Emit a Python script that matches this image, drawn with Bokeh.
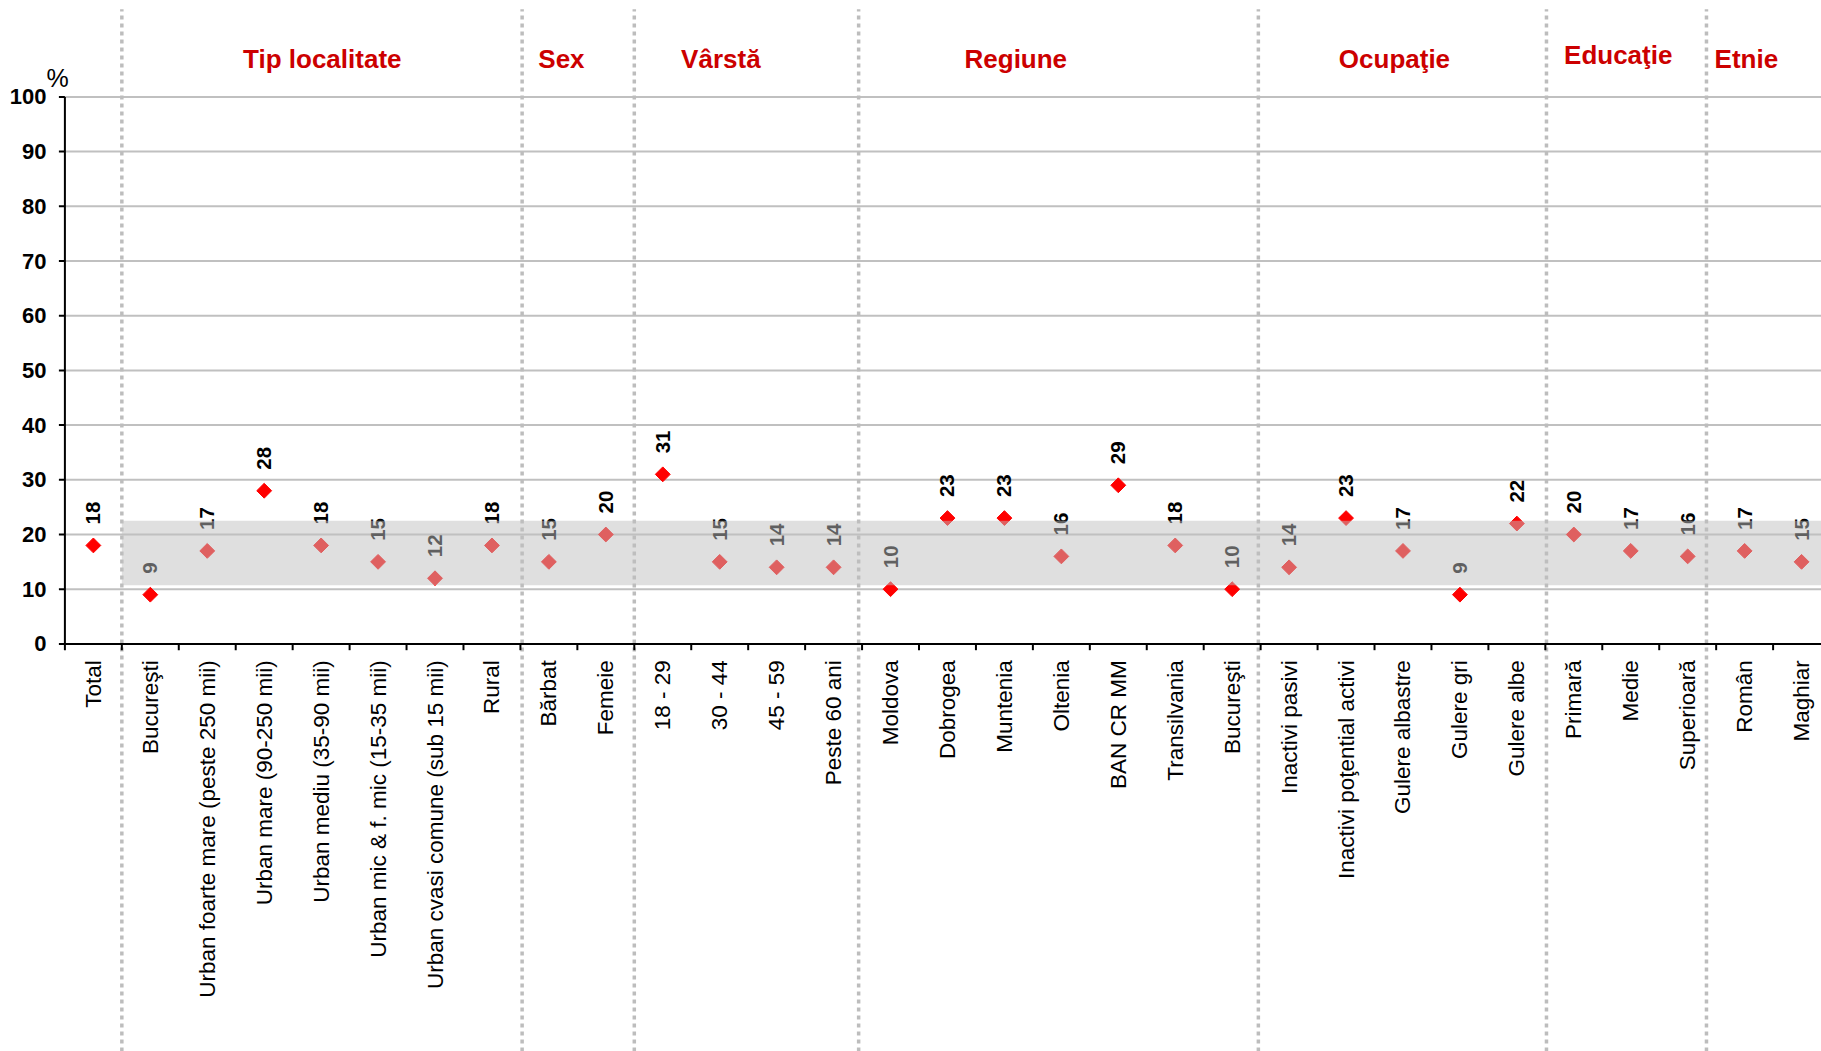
import math
from bokeh.plotting import figure
from bokeh.models import Range1d, FixedTicker, ColumnDataSource
from bokeh.core.properties import value
from bokeh.embed import file_html
from bokeh.resources import INLINE

# ---------------- data ----------------
categories = [
    "Total", "Bucureşti", "Urban foarte mare (peste 250 mii)", "Urban mare (90-250 mii)",
    "Urban mediu (35-90 mii)", "Urban mic & f. mic (15-35 mii)", "Urban cvasi comune (sub 15 mii)",
    "Rural", "Bărbat", "Femeie", "18 - 29", "30 - 44", "45 - 59", "Peste 60 ani",
    "Moldova", "Dobrogea", "Muntenia", "Oltenia", "BAN CR MM", "Transilvania", "Bucureşti",
    "Inactivi pasivi", "Inactivi poţential activi", "Gulere albastre", "Gulere gri", "Gulere albe",
    "Primară", "Medie", "Superioară", "Român", "Maghiar",
]
values = [18, 9, 17, 28, 18, 15, 12, 18, 15, 20, 31, 15, 14, 14, 10, 23, 23, 16, 29, 18, 10,
          14, 23, 17, 9, 22, 20, 17, 16, 17, 15]
group_names = ["Tip localitate", "Sex", "Vârstă", "Regiune", "Ocupaţie", "Educaţie", "Etnie"]
group_first_index = [1, 8, 10, 14, 21, 26, 29]
band_low, band_high = 10.7, 22.5
y_ticks = list(range(0, 101, 10))

# ---------------- layout (positions, not data) ----------------
header_x = [4.52, 8.72, 11.52, 16.70, 23.35, 27.28, 29.53]
header_lift_px = [0, 0, 0, 0, 0, 4, 0]
separator_shift = [0, 0.03, 0, -0.06, -0.04, 0.02, -0.17]   # hand-drawn lines in the original
W, H = 1821, 1051
FRAME_L = 46          # px, frame left edge
AXIS_X = 64.4         # px, where value axis sits
PX_X = 56.94          # px per category
PX_Y = 5.47           # px per percent
ZERO_Y = 643.4        # px from top to value 0
x_start = -(AXIS_X - FRAME_L) / PX_X
x_end = (W - AXIS_X) / PX_X
y_top = ZERO_Y / PX_Y
y_bot = -(H - ZERO_Y) / PX_Y

FONT = "Liberation Sans"
RED_HDR = "#CC0000"
GRID = "#C0C0C0"

p = figure(width=W, height=H, output_backend="svg", toolbar_location=None,
           x_range=Range1d(x_start, x_end), y_range=Range1d(y_bot, y_top),
           min_border_left=FRAME_L, min_border_right=0, min_border_top=0, min_border_bottom=0,
           x_axis_location=None)
p.outline_line_color = None
p.background_fill_color = "white"
p.border_fill_color = "white"
p.xgrid.visible = False
p.ygrid.visible = False

# y axis: real tick labels, line/ticks drawn at value 0 of the category scale
ya = p.yaxis[0]
ya.ticker = FixedTicker(ticks=y_ticks)
ya.bounds = (0, 100)
ya.axis_line_color = None
ya.major_tick_line_color = None
ya.major_tick_out = 0
ya.major_tick_in = 0
ya.minor_tick_line_color = None
ya.major_label_standoff = 0
ya.major_label_text_font = FONT
ya.major_label_text_font_style = "bold"
ya.major_label_text_font_size = "22px"
ya.major_label_text_color = "black"

n = len(categories)
centers = [i + 0.5 for i in range(n)]
bounds = list(range(0, n))
grid_y = y_ticks[1:]
sep_x = [g + s for g, s in zip(group_first_index, separator_shift)]

# horizontal grid lines
p.segment(x0=[0] * len(grid_y), x1=[x_end] * len(grid_y), y0=grid_y, y1=grid_y,
          line_color=GRID, line_width=2)

# separators between groups
p.segment(x0=sep_x, x1=sep_x,
          y0=[y_bot] * len(sep_x), y1=[y_top - 1.6] * len(sep_x),
          line_color="#BDBDBD", line_width=3.5, line_dash="4 4")

# value axis line and ticks
p.segment(x0=[0], x1=[0], y0=[0], y1=[100], line_color="black", line_width=2)
p.segment(x0=[0] * len(y_ticks), x1=[-6 / PX_X] * len(y_ticks), y0=y_ticks, y1=y_ticks,
          line_color="black", line_width=2)

# category axis line and ticks
p.segment(x0=[0], x1=[x_end], y0=[0], y1=[0], line_color="black", line_width=2)
p.segment(x0=bounds, x1=bounds, y0=[0] * n, y1=[-6.3 / PX_Y] * n,
          line_color="black", line_width=2)

# category labels
p.text(x=centers, y=[-16.3 / PX_Y] * n, text=categories, angle=math.pi / 2,
       text_align="right", text_baseline="middle", text_font=value(FONT),
       text_font_size="22.5px", text_color="black")

# points and their value labels
src = ColumnDataSource(dict(x=centers, y=values, lbl=[str(v) for v in values],
                            ly=[v + 21 / PX_Y for v in values]))
p.scatter(x="x", y="y", source=src, marker="square", angle=math.pi / 4, size=10.5,
          fill_color="#FF0000", line_color="#FF0000")
p.text(x="x", y="ly", text="lbl", source=src, angle=math.pi / 2, text_align="left",
       text_baseline="middle", text_font=value(FONT), text_font_style="bold",
       text_font_size="20.5px", text_color="black")

# shaded band drawn on top (semi-transparent)
p.quad(left=[sep_x[0]], right=[x_end], bottom=[band_low], top=[band_high],
       fill_color=GRID, fill_alpha=0.5, line_color=None)

# group headers
p.text(x=header_x, y=[(ZERO_Y - 58.5 + d) / PX_Y for d in header_lift_px], text=group_names,
       text_align="center", text_baseline="alphabetic", text_font=value(FONT),
       text_font_style="bold", text_font_size="26px", text_color=RED_HDR)

# % unit mark
p.text(x=[-7.4 / PX_X], y=[100 + 5 / PX_Y], text=["%"], text_align="center",
       text_baseline="bottom", text_font=value(FONT), text_font_size="25px",
       text_color="black")

open("out.html", "w").write(file_html(p, INLINE))
